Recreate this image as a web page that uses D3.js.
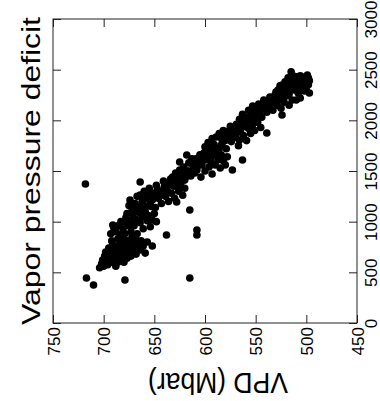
<!DOCTYPE html>
<html>
<head>
<meta charset="utf-8">
<script src="https://cdn.jsdelivr.net/npm/d3@7"></script>
<style>
  body { margin: 0; background: #fff; }
  svg { display: block; font-family: "Liberation Sans", Arial, sans-serif; }
</style>
</head>
<body>
<div id="chart"></div>
<script>
// VPD (Mbar) on the horizontal axis, vapor pressure deficit on the vertical one
var vpdTicks = [750, 700, 650, 600, 550, 500, 450];
var deficitTicks = [0, 500, 1000, 1500, 2000, 2500, 3000];

var vpd = [
    704, 702, 701, 700, 699, 698, 697, 696, 695, 694, 693, 692, 691, 690, 689, 688, 687, 686, 685, 684, 683, 682, 681, 680, 679,
    678, 677, 676, 675, 674, 673, 672, 671, 669, 668, 666, 664, 663, 661, 659, 657, 652,
    693, 690, 691, 688, 686, 684, 683, 681, 679, 678, 676, 674, 673, 671, 670, 668, 667, 665, 664, 662, 661, 659, 657, 656, 654,
    652, 650, 648, 638, 608, 608,
    675, 674, 671, 669, 667, 665, 664, 664, 662, 661, 660, 658, 657, 655, 654, 652, 651, 649, 648, 646, 645, 643, 642, 641, 639,
    638, 636, 635, 633, 631, 630, 628, 628, 626, 624, 622, 620, 615,
    632, 629, 627, 625, 625, 623, 621, 620, 618, 618, 616, 614, 613, 611, 610, 608, 607, 605, 604, 603, 602, 600, 599, 597, 596,
    594, 593, 591, 590, 588, 587, 585, 584, 582, 580, 578, 573, 563,
    600, 597, 595, 593, 591, 589, 588, 586, 584, 584, 582, 580, 579, 577, 575, 574, 572, 570, 569, 567, 566, 565, 563, 562, 560,
    559, 557, 555, 553, 551, 548, 545,
    566, 563, 561, 559, 557, 555, 553, 551, 549, 547, 545, 544, 542, 541, 539, 539, 537, 536, 534, 533, 531, 530, 529, 527, 525,
    524, 522, 520, 517, 514,
    528, 526, 524, 523, 521, 520, 518, 517, 515, 515, 513, 512, 510, 509, 508, 507, 505, 504, 503, 502, 501, 500, 499, 498, 497,
    497, 510, 506,
    680, 677, 672, 668, 663, 660, 656, 653, 650, 647, 644, 640, 637, 634, 630, 627, 623, 619,
    616, 612, 609, 606, 603, 601, 598, 595, 592, 589, 586,
    583, 581, 578, 576, 573, 571, 568, 566, 564, 561, 558, 556,
    554, 552, 550, 548, 546, 543, 540, 538, 535, 532, 530, 527, 525,
    522, 519, 516, 514, 511, 509, 506, 504, 502, 500, 498, 513, 519,
    699, 696, 693, 690, 686, 683, 680, 677, 674, 671, 668, 665, 662, 672, 680, 686, 692,
    717, 710, 679, 615, 718
];

var deficit = [
    545, 585, 620, 560, 660, 700, 610, 575, 740, 655, 690, 600, 770, 640, 710, 560, 680, 750, 620, 790, 700, 655, 735, 600, 770,
    690, 640, 810, 720, 760, 660, 800, 700, 745, 820, 780, 720, 810, 760, 690, 800, 760,
    880, 940, 967, 900, 960, 870, 1000, 930, 880, 1040, 960, 1010, 900, 1070, 960, 1020, 880, 1090, 990, 1050, 930, 1100, 1010, 1060, 950,
    1017, 1080, 1000, 869, 918, 869,
    1160, 1214, 1115, 1180, 1250, 1130, 1263, 1392, 1200, 1046, 1300, 1150, 1240, 1330, 1190, 1214, 1280, 1140, 1360, 1230, 1300, 1180, 1293, 1400, 1250,
    1330, 1200, 1380, 1280, 1350, 1230, 1382, 1194, 1300, 1360, 1260, 1330, 1115,
    1440, 1480, 1420, 1589, 1510, 1460, 1540, 1410, 1658, 1500, 1580, 1450, 1620, 1530, 1480, 1510, 1590, 1660, 1440, 1560, 1638, 1500, 1610, 1680, 1540,
    1590, 1470, 1650, 1560, 1700, 1610, 1530, 1660, 1600, 1560, 1640, 1510, 1609,
    1740, 1780, 1720, 1820, 1760, 1836, 1700, 1870, 1826, 1750, 1900, 1800, 1720, 1860, 1940, 1790, 1880, 1830, 1960, 1750, 1806, 1900, 1954, 1850, 1990,
    1800, 1920, 1870, 1960, 1900, 1980, 1930,
    2010, 2060, 2003, 2033, 2100, 2040, 2140, 2080, 2053, 2160, 2110, 2030, 2200, 2130, 1875, 2080, 2131, 2230, 2170, 2100, 2250, 2230, 2150, 2200, 2120,
    2053, 2180, 2240, 2150, 2200,
    2300, 2340, 2349, 2280, 2380, 2310, 2420, 2260, 2480, 2350, 2390, 2300, 2430, 2340, 2270, 2400, 2330, 2428, 2370, 2290, 2410, 2300, 2447, 2350, 2390,
    2270, 2200, 2220,
    1000, 1080, 1130, 1100, 1150, 1220, 1280, 1150, 1250, 1320, 1260, 1350, 1300, 1420, 1390, 1340, 1410, 1440,
    1500, 1560, 1620, 1560, 1600, 1680, 1650, 1620, 1700, 1660, 1720,
    1780, 1850, 1820, 1900, 1850, 1920, 1880, 1950, 2000, 1940, 1980, 2020,
    2080, 2120, 2000, 2100, 2060, 2150, 2180, 2160, 2200, 2190, 2280, 2260, 2230,
    2320, 2350, 2380, 2330, 2400, 2370, 2440, 2350, 2400, 2380, 2420, 2440, 2280,
    580, 700, 640, 720, 600, 740, 680, 720, 700, 740, 680, 760, 780, 850, 820, 830, 810,
    444, 375, 424, 444, 1372
];

function drawChart() {
    var svg = d3.select("#chart").append("svg")
        .attr("width", 380)
        .attr("height", 401);

    var left = 53, right = 357, top = 19, bottom = 323;

    var xScale = d3.scaleLinear().domain([750, 450]).range([left, right]);
    var yScale = d3.scaleLinear().domain([0, 3000]).range([bottom, top]);

    var points = vpd.map(function (v, i) {
        return {vpd: v, deficit: deficit[i]};
    });

    svg.append("g")
        .selectAll("circle")
        .data(points)
        .enter().append("circle")
        .attr("cx", function (d) { return xScale(d.vpd); })
        .attr("cy", function (d) { return yScale(d.deficit); })
        .attr("r", 3.8)
        .style("fill", "#000");

    // inward ticks on all four sides
    var xAxis = d3.axisBottom(xScale).tickValues(vpdTicks).tickSize(-8).tickFormat(d3.format("d"));
    var gx = svg.append("g")
        .attr("transform", "translate(0," + bottom + ")")
        .call(xAxis);
    gx.selectAll("text")
        .attr("x", 0).attr("y", 0).attr("dy", 0)
        .attr("transform", "translate(6,4) rotate(-90)")
        .style("text-anchor", "end");

    svg.append("g")
        .attr("transform", "translate(0," + top + ")")
        .call(d3.axisTop(xScale).tickValues(vpdTicks).tickSize(-8).tickFormat(""));

    var yAxis = d3.axisRight(yScale).tickValues(deficitTicks).tickSize(-8).tickFormat(d3.format("d"));
    var gy = svg.append("g")
        .attr("transform", "translate(" + right + ",0)")
        .call(yAxis);
    gy.selectAll("text")
        .attr("x", 0).attr("y", 0).attr("dy", 0)
        .attr("transform", "translate(20,0) rotate(-90)")
        .style("text-anchor", "middle");

    svg.append("g")
        .attr("transform", "translate(" + left + ",0)")
        .call(d3.axisLeft(yScale).tickValues(deficitTicks).tickSize(-8).tickFormat(""));

    svg.selectAll(".domain").remove();
    svg.selectAll(".tick line").attr("stroke", "#222");
    svg.selectAll(".tick text")
        .style("font-size", "17px")
        .style("font-family", "'Liberation Sans', Arial, sans-serif")
        .attr("fill", "#000");

    svg.append("rect")
        .attr("x", left).attr("y", top)
        .attr("width", right - left).attr("height", bottom - top)
        .style("fill", "none")
        .style("stroke", "#222")
        .style("stroke-width", 1);

    svg.append("text")
        .attr("transform", "translate(40,325) rotate(-90)")
        .attr("textLength", 308)
        .attr("lengthAdjust", "spacingAndGlyphs")
        .style("font-size", "26px")
        .text("Vapor pressure deficit");

    svg.append("text")
        .attr("transform", "translate(288,373) rotate(180)")
        .attr("textLength", 140)
        .attr("lengthAdjust", "spacingAndGlyphs")
        .style("font-size", "30px")
        .text("VPD (Mbar)");
}

drawChart();
</script>
</body>
</html>
